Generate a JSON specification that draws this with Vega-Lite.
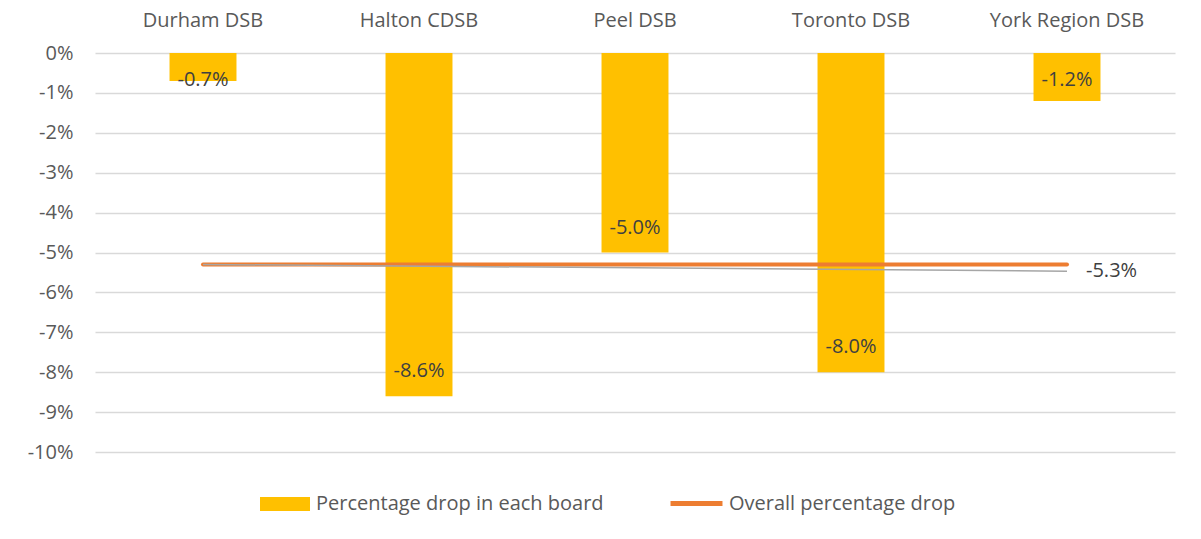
{
  "$schema": "https://vega.github.io/schema/vega-lite/v6.json",
  "autosize": {"type": "none"},
  "padding": {"left": 95, "top": 53, "right": 26, "bottom": 87},
  "width": 1080,
  "height": 399,
  "background": "white",
  "config": {
    "view": {"stroke": null},
    "font": "Open Sans",
    "text": {"font": "Open Sans"}
  },
  "datasets": {
    "boards": [
      {"board": "Durham DSB", "drop": -0.7, "label": "-0.7%", "series": "Percentage drop in each board"},
      {"board": "Halton CDSB", "drop": -8.6, "label": "-8.6%", "series": "Percentage drop in each board"},
      {"board": "Peel DSB", "drop": -5.0, "label": "-5.0%", "series": "Percentage drop in each board"},
      {"board": "Toronto DSB", "drop": -8.0, "label": "-8.0%", "series": "Percentage drop in each board"},
      {"board": "York Region DSB", "drop": -1.2, "label": "-1.2%", "series": "Percentage drop in each board"}
    ],
    "overall": [
      {"board": "Durham DSB", "drop": -5.3, "series": "Overall percentage drop"},
      {"board": "Halton CDSB", "drop": -5.3, "series": "Overall percentage drop"},
      {"board": "Peel DSB", "drop": -5.3, "series": "Overall percentage drop"},
      {"board": "Toronto DSB", "drop": -5.3, "series": "Overall percentage drop"},
      {"board": "York Region DSB", "drop": -5.3, "series": "Overall percentage drop"}
    ],
    "leader": [
      {"from": "Durham DSB", "to": "York Region DSB", "drop": -5.3, "y2": -5.47, "label": "-5.3%"}
    ]
  },
  "encoding": {
    "x": {
      "field": "board", "type": "nominal", "sort": null,
      "scale": {"domain": ["Durham DSB", "Halton CDSB", "Peel DSB", "Toronto DSB", "York Region DSB"], "paddingInner": 0.69, "paddingOuter": 0.345},
      "axis": {"orient": "top", "title": null, "labelAngle": 0, "domain": false, "ticks": false, "labelPadding": 23, "labelFontSize": 20, "labelColor": "#595959", "labelFont": "Open Sans", "labelLimit": 0}
    },
    "y": {
      "field": "drop", "type": "quantitative",
      "scale": {"domain": [-10, 0], "nice": false},
      "axis": {"title": null, "values": [0, -1, -2, -3, -4, -5, -6, -7, -8, -9, -10], "tickCount": 11, "labelExpr": "replace(format(datum.value, 'd'), '\u2212', '-') + '%'", "labelOverlap": false, "labelFlush": false, "domain": false, "ticks": false, "labelPadding": 22, "labelFontSize": 20, "labelColor": "#595959", "gridColor": "#d9d9d9", "gridWidth": 1.5, "labelFont": "Open Sans"}
    }
  },
  "layer": [
    {
      "data": {"name": "boards"},
      "mark": {"type": "bar"},
      "encoding": {
        "fill": {
          "field": "series", "type": "nominal",
          "scale": {"range": ["#FFC000"]},
          "legend": {"title": null, "orient": "none", "legendX": 165, "legendY": 426, "symbolType": "M-1,-0.28H1V0.28H-1Z", "symbolSize": 2500, "symbolStrokeWidth": 0, "labelFontSize": 20, "labelColor": "#595959", "labelFont": "Open Sans", "labelOffset": 6, "labelLimit": 0}
        }
      }
    },
    {
      "data": {"name": "overall"},
      "mark": {"type": "line", "strokeWidth": 4, "strokeCap": "round"},
      "encoding": {
        "stroke": {
          "field": "series", "type": "nominal",
          "scale": {"range": ["#ED7D31"]},
          "legend": {"title": null, "orient": "none", "legendX": 573, "legendY": 422, "symbolType": "stroke", "symbolSize": 2700, "symbolStrokeWidth": 5, "labelFontSize": 20, "labelColor": "#595959", "labelFont": "Open Sans", "labelOffset": 4, "labelLimit": 0}
        }
      }
    },
    {
      "data": {"name": "leader"},
      "mark": {"type": "rule", "color": "#a6a6a6", "strokeWidth": 1.5},
      "encoding": {
        "x": {"field": "from", "type": "nominal", "sort": null},
        "x2": {"field": "to"},
        "y2": {"field": "y2"}
      }
    },
    {
      "data": {"name": "leader"},
      "mark": {"type": "text", "align": "left", "baseline": "middle", "dx": 19, "dy": 7, "fontSize": 20, "color": "#404040"},
      "encoding": {
        "x": {"field": "to", "type": "nominal", "sort": null},
        "text": {"field": "label"}
      }
    },
    {
      "data": {"name": "boards"},
      "transform": [{"filter": "datum.drop < -3"}],
      "mark": {"type": "text", "baseline": "middle", "dy": -25, "fontSize": 20, "color": "#404040"},
      "encoding": {
        "text": {"field": "label"}
      }
    },
    {
      "data": {"name": "boards"},
      "transform": [{"filter": "datum.drop >= -3"}],
      "mark": {"type": "text", "baseline": "middle", "dy": 27, "fontSize": 20, "color": "#404040"},
      "encoding": {
        "y": {"datum": 0, "type": "quantitative"},
        "text": {"field": "label"}
      }
    }
  ]
}
